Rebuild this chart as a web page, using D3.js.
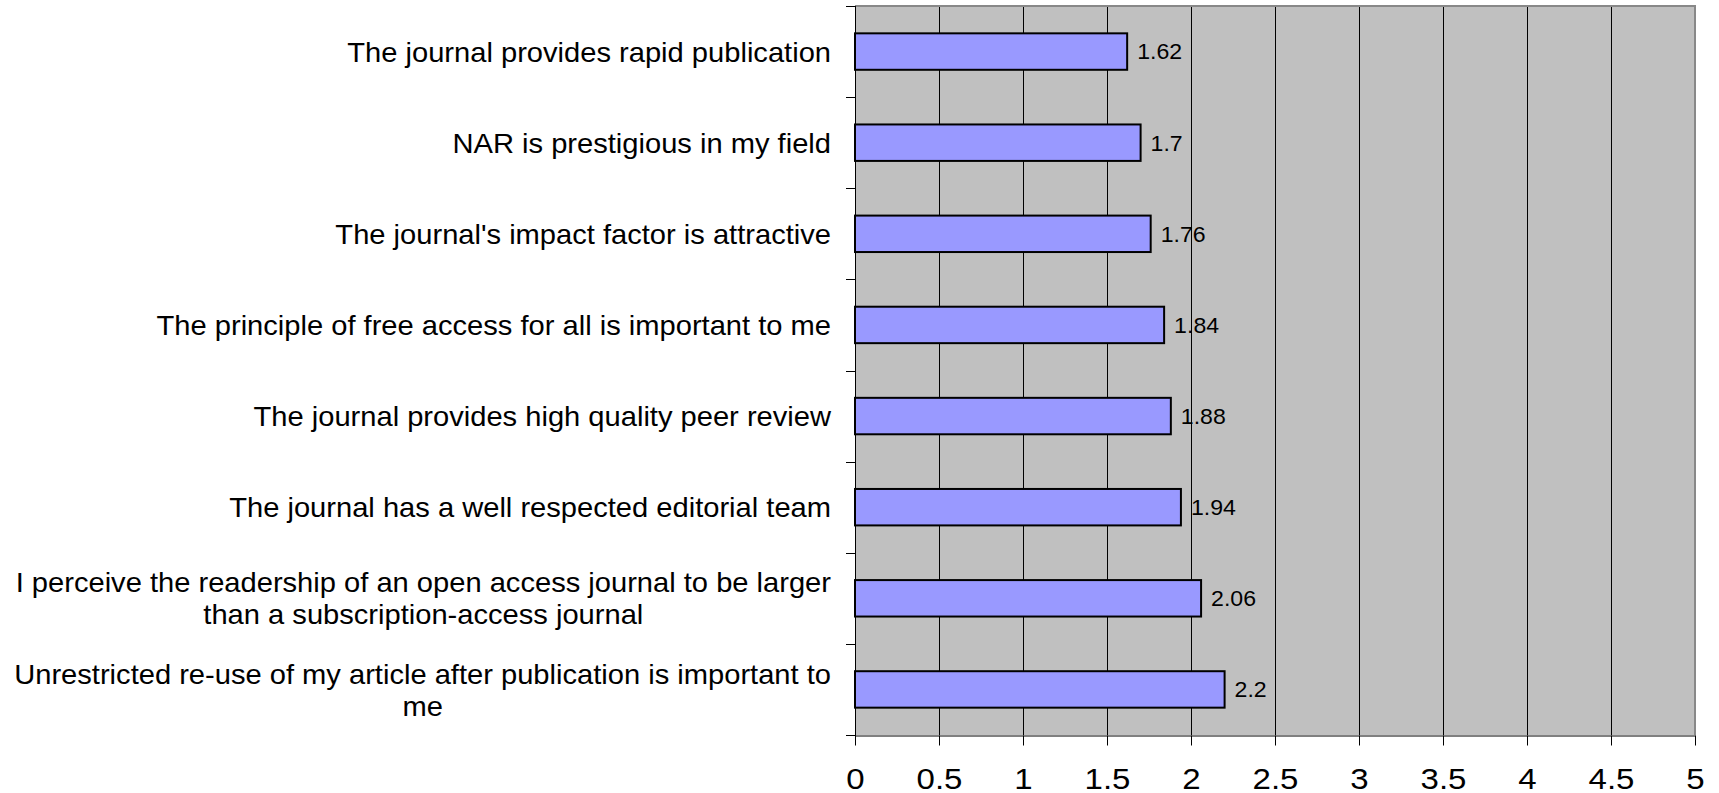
<!DOCTYPE html>
<meta charset="utf-8">
<style>
body { margin: 0; background: #fff; }
text { font-family: "Liberation Sans", Arial, sans-serif; fill: #000; }
</style>
<svg width="1719" height="793"></svg>
<script src="https://d3js.org/d3.v7.min.js"></script>
<script>
// survey reasons, top to bottom ("\n" = line break in the label)
var categories = [
  "The journal provides rapid publication",
  "NAR is prestigious in my field",
  "The journal's impact factor is attractive",
  "The principle of free access for all is important to me",
  "The journal provides high quality peer review",
  "The journal has a well respected editorial team",
  "I perceive the readership of an open access journal to be larger\nthan a subscription-access journal",
  "Unrestricted re-use of my article after publication is important to\nme"
];
var values = [1.62, 1.7, 1.76, 1.84, 1.88, 1.94, 2.06, 2.2];
var xTicks = [0, 0.5, 1, 1.5, 2, 2.5, 3, 3.5, 4, 4.5, 5];

// plot box (note: "top" is taken by window.top)
var svg = d3.select("svg"),
    pLeft = 855, pRight = 1695, pTop = 6, pBottom = 735;

var x = d3.scaleLinear().domain([0, 5]).range([pLeft, pRight]);
var y = d3.scaleBand().domain(categories).range([pTop, pBottom])
    .paddingInner(0.6).paddingOuter(0.3);

// plot background
svg.append("rect")
    .attr("x", pLeft).attr("y", pTop)
    .attr("width", pRight - pLeft).attr("height", pBottom - pTop)
    .attr("fill", "#c0c0c0");

// vertical gridlines
svg.append("g").selectAll("line")
  .data(xTicks.slice(1, -1))
  .join("line")
    .attr("x1", d => x(d) + 0.5).attr("x2", d => x(d) + 0.5)
    .attr("y1", pTop).attr("y2", pBottom)
    .attr("stroke", "#000").attr("stroke-width", 1);

// grey frame top/right
svg.append("path")
    .attr("d", "M" + pLeft + "," + pTop + "H" + pRight + "V" + pBottom)
    .attr("fill", "none").attr("stroke", "#888").attr("stroke-width", 2);

// bars
svg.append("g").selectAll("rect")
  .data(values)
  .join("rect")
    .attr("x", x(0))
    .attr("y", (d, i) => y(categories[i]))
    .attr("width", d => x(d) - x(0))
    .attr("height", y.bandwidth())
    .attr("fill", "#9999ff")
    .attr("stroke", "#000")
    .attr("stroke-width", 2);

// value labels (the original text is a little wider than Liberation Sans)
svg.append("g").selectAll("text")
  .data(values)
  .join("text")
    .attr("transform", (d, i) => "translate(" + (x(d) + 10) + "," +
      (y(categories[i]) + y.bandwidth() / 2) + ") scale(1.05,1)")
    .attr("dy", "0.36em")
    .style("font-size", "22px")
    .text(d => d);

// left axis with ticks on the category boundaries
var bounds = d3.range(categories.length + 1).map(i => pTop + i * y.step());
var yAxis = svg.append("g");
yAxis.append("line")
    .attr("x1", pLeft + 0.5).attr("x2", pLeft + 0.5)
    .attr("y1", pTop).attr("y2", pBottom + 10)
    .attr("stroke", "#000");
yAxis.selectAll("line.tick")
  .data(bounds)
  .join("line")
    .attr("class", "tick")
    .attr("x1", pLeft - 9).attr("x2", pLeft)
    .attr("y1", d => Math.round(d) + 0.5).attr("y2", d => Math.round(d) + 0.5)
    .attr("stroke", "#000");

// category labels, multi-line ones centred on their own block
var lineH = 32, labelRight = 831;
categories.forEach(function(c) {
  var lines = c.split("\n");
  var cy = y(c) + y.bandwidth() / 2;
  var g = svg.append("g")
      .attr("transform", "translate(" + labelRight + "," + cy + ") scale(1.04,1)");
  var t = g.selectAll("text")
    .data(lines)
    .join("text")
      .attr("y", (d, i) => (i - (lines.length - 1) / 2) * lineH)
      .attr("dy", "0.36em")
      .style("font-size", "28px")
      .text(d => d);
  if (lines.length > 1) {
    var w = d3.max(t.nodes(), n => n.getComputedTextLength());
    t.attr("text-anchor", "middle").attr("x", -w / 2);
  } else {
    t.attr("text-anchor", "end").attr("x", 0);
  }
});

// bottom axis
var xAxis = svg.append("g")
    .attr("transform", "translate(0," + (pBottom + 0.5) + ")")
    .call(d3.axisBottom(x).tickValues(xTicks).tickSize(10).tickSizeOuter(0)
      .tickPadding(33).tickFormat(d3.format("")));
xAxis.select(".domain").attr("stroke", "#000");
xAxis.selectAll(".tick line").attr("stroke", "#000");
xAxis.selectAll("text")
    .attr("fill", "#000")
    .attr("dy", 0)
    .attr("transform", "scale(1.1,1)")
    .style("font-size", "30px")
    .style("font-family", "'Liberation Sans', Arial, sans-serif");
// baseline ~ 790 px
xAxis.selectAll("text").attr("y", 54);
</script>
